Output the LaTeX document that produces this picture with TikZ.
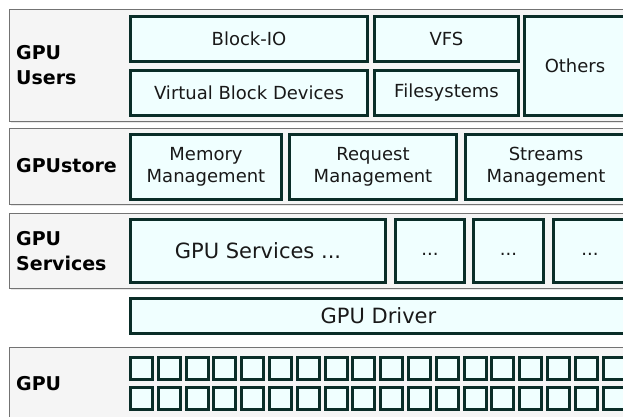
\documentclass[tikz,border=0pt]{standalone}
\usepackage{fontspec}
\setmainfont{DejaVu Sans}
\usetikzlibrary{shadows}
\definecolor{boxline}{RGB}{10,45,40}
\definecolor{boxfill}{RGB}{240,255,255}
\definecolor{layerline}{RGB}{115,115,115}
\definecolor{layerfill}{RGB}{245,245,245}
\definecolor{textdark}{RGB}{25,25,25}
\tikzset{
  layer/.style={draw=layerline, line width=1.2pt, fill=layerfill, rectangle,
    inner sep=0pt, anchor=north west,
    drop shadow={shadow xshift=1pt, shadow yshift=-1.5pt, opacity=0.18}},
  part/.style={draw=boxline, line width=3pt, fill=boxfill, rectangle,
    inner sep=0pt, align=center, text=textdark,
    font=\fontsize{18}{22}\selectfont,
    drop shadow={shadow xshift=1.5pt, shadow yshift=-1.5pt, opacity=0.22}},
  bigpart/.style={part, font=\fontsize{21}{24}\selectfont},
  cell/.style={draw=boxline, line width=3pt, fill=boxfill, rectangle,
    inner sep=0pt, minimum size=22pt,
    drop shadow={shadow xshift=1pt, shadow yshift=-1pt, opacity=0.2}},
  lbl/.style={anchor=west, align=left, inner sep=0pt, text=black,
    font=\fontsize{19}{25}\selectfont\bfseries},
}
\begin{document}
\begin{tikzpicture}[x=1pt, y=-1pt]
  \useasboundingbox (0,0) rectangle (623,417);
  \clip (0,0) rectangle (623,417);
  \fill[white] (0,0) rectangle (623,417);

  % layer frames
  \node[layer, minimum width=622pt, minimum height=112pt] (users) at (9,9) {};
  \node[layer, minimum width=622pt, minimum height=76pt] (store) at (9,128) {};
  \node[layer, minimum width=622pt, minimum height=75pt] (services) at (9,213) {};
  \node[layer, minimum width=622pt, minimum height=80pt] (gpu) at (9,347) {};

  % layer titles
  \node[lbl] (lusers) at (16,65) {GPU\\Users};
  \node[lbl] (lstore) at (16,166) {GPUstore};
  \node[lbl] (lservices) at (16,251) {GPU\\Services};
  \node[lbl] (lgpu) at (16,384) {GPU};

  % GPU users
  \node[part, minimum width=237pt, minimum height=45pt] (blockio) at (249,39) {Block-IO};
  \node[part, minimum width=237pt, minimum height=45pt] (vbd) at (249,93) {Virtual Block Devices};
  \node[part, minimum width=144pt, minimum height=45pt] (vfs) at (446.5,39) {VFS};
  \node[part, minimum width=144pt, minimum height=45pt] (fs) at (446.5,93) {Filesystems};
  \node[part, minimum width=102pt, minimum height=99pt] (others) at (575,66) {Others};

  % GPUstore
  \node[part, minimum width=151pt, minimum height=65pt] (mem) at (206,167) {Memory\\Management};
  \node[part, minimum width=167pt, minimum height=65pt] (req) at (373,167) {Request\\Management};
  \node[part, minimum width=161pt, minimum height=65pt] (streams) at (546,167) {Streams\\Management};

  % GPU services (dots sit on a full-height text line)
  \node[bigpart, minimum width=255pt, minimum height=63pt] (gsvc) at (258,251) {GPU Services ...};
  \node[part, minimum width=69pt, minimum height=63pt] (svca) at (430,251) {\vphantom{Xg}...};
  \node[part, minimum width=70pt, minimum height=63pt] (svcb) at (508.5,251) {\vphantom{Xg}...};
  \node[part, minimum width=73pt, minimum height=63pt] (svcc) at (590,251) {\vphantom{Xg}...};

  % driver
  \node[bigpart, minimum width=496pt, minimum height=35pt] (driver) at (378.5,316) {GPU Driver};

  % GPU cores
  \foreach \k in {0,...,17} {
    \node[cell] (core-a-\k) at ({141.5+27.8*\k},368) {};
    \node[cell] (core-b-\k) at ({141.5+27.8*\k},398) {};
  }
\end{tikzpicture}
\end{document}
